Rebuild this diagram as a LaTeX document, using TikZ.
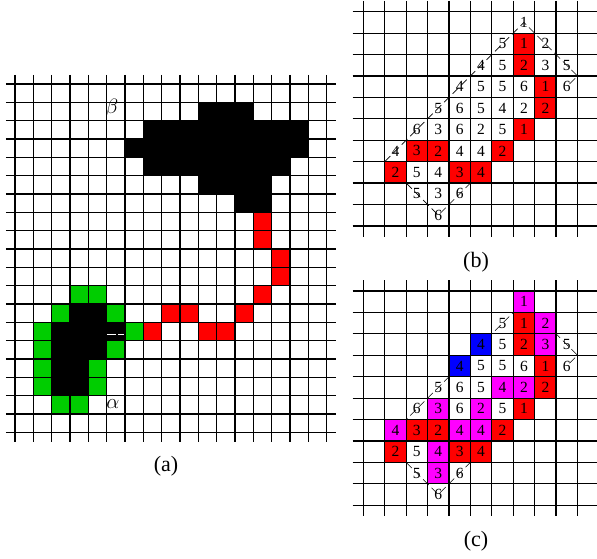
\documentclass[tikz,border=0pt]{standalone}
\usepackage{fontspec}
\setmainfont{Liberation Serif}
\definecolor{cred}{RGB}{255,0,0}
\definecolor{cgreen}{RGB}{0,205,0}
\definecolor{cmag}{RGB}{255,0,255}
\definecolor{cblue}{RGB}{0,0,255}
\tikzset{
  gridline/.style={line width=1.2pt, black},
  bnd/.style={line width=0.6pt, black, dash pattern=on 8pt off 4pt},
  dig/.style={inner sep=0pt, font=\fontsize{15.5}{15.5}\selectfont},
  capt/.style={inner sep=0pt, font=\fontsize{22}{22}\selectfont},
  greek/.style={inner sep=0pt, font=\fontsize{22}{22}\selectfont},
}
\newcommand\cellfill[2]{\foreach \c/\r in {#2} {\fill[#1] (\c,\r) rectangle ++(1,1);}}
\def\digitlist{7/0/1, 6/1/5, 7/1/1, 8/1/2, 5/2/4, 6/2/5, 7/2/2, 8/2/3, 9/2/5, 4/3/4, 5/3/5, 6/3/5, 7/3/6, 8/3/1, 9/3/6, 3/4/5, 4/4/6, 5/4/5, 6/4/4, 7/4/2, 8/4/2, 2/5/6, 3/5/3, 4/5/6, 5/5/2, 6/5/5, 7/5/1, 1/6/4, 2/6/3, 3/6/2, 4/6/4, 5/6/4, 6/6/2, 1/7/2, 2/7/5, 3/7/4, 4/7/3, 5/7/4, 2/8/5, 3/8/3, 4/8/6, 3/9/6}
\begin{document}
\begin{tikzpicture}[x=1pt,y=-1pt]
\useasboundingbox (0,0) rectangle (597,558);
\clip (0,0) rectangle (597,558);
\fill[white] (0,0) rectangle (597,558);

% ---------- panel (a) ----------
\begin{scope}[shift={(15,84)}, x=18.333pt, y=-18.333pt]
  % beta blob
  \fill[black] (10,1) rectangle (13,2);
  \fill[black] (7,2) rectangle (16,3);
  \fill[black] (6,3) rectangle (16,4);
  \fill[black] (7,4) rectangle (15,5);
  \fill[black] (10,5) rectangle (14,6);
  \fill[black] (12,6) rectangle (14,7);
  % alpha blob
  \fill[black] (3,12) rectangle (5,13);
  \fill[black] (2,13) rectangle (6,14);
  \fill[black] (2,14) rectangle (5,15);
  \fill[black] (2,15) rectangle (4,17);
  % green border
  \cellfill{cgreen}{3/11, 4/11, 2/12, 5/12, 1/13, 6/13, 1/14, 5/14, 1/15, 4/15, 1/16, 4/16, 2/17, 3/17}
  % red path
  \cellfill{cred}{13/7, 13/8, 14/9, 14/10, 13/11, 12/12, 8/12, 9/12, 7/13, 10/13, 11/13}
  % grid
  \foreach \i in {0,...,17} {\draw[gridline] (\i,-0.5) -- (\i,19.5);}
  \foreach \j in {0,...,19} {\draw[gridline] (-0.5,\j) -- (17.5,\j);}
  % white dashes
  \draw[white, line width=1pt] (5.02,13.65) -- (5.52,13.65);
  \draw[white, line width=1pt] (5.62,13.65) -- (5.95,13.65);
\end{scope}
\node[greek] (beta) at (112,108) {$\beta$};
\node[greek] (alpha) at (113,404) {$\alpha$};
\node[capt] (capa) at (166,466) {(a)};

% ---------- panel (b) ----------
\begin{scope}[shift={(363.3,11.7)}, x=21.42pt, y=-21.42pt]
  \draw[bnd] (1,7) -- (7,1) -- (7.5,0.5) -- (8,1) -- (10,3) -- (9.5,3.5);
  \draw[bnd] (2,8) -- (3,9) -- (3.5,9.5) -- (4,9) -- (5,8);
  \cellfill{cred}{7/1, 7/2, 8/3, 8/4, 7/5, 2/6, 3/6, 6/6, 1/7, 4/7, 5/7}
  \foreach \i in {0,...,11} {\draw[gridline] (\i,-0.5) -- (\i,10.5);}
  \foreach \j in {0,...,10} {\draw[gridline] (-0.5,\j) -- (11.5,\j);}
  \foreach \c/\r/\d in \digitlist {\node[dig] (b\c-\r) at (\c+0.5,\r+0.5) {\d};}
\end{scope}
\node[capt] (capb) at (476,262) {(b)};

% ---------- panel (c) ----------
\begin{scope}[shift={(363.3,291.0)}, x=21.42pt, y=-21.42pt]
  \draw[bnd] (1,7) -- (7,1) -- (7.5,0.5) -- (8,1) -- (10,3) -- (9.5,3.5);
  \draw[bnd] (2,8) -- (3,9) -- (3.5,9.5) -- (4,9) -- (5,8);
  \cellfill{cred}{7/1, 7/2, 8/3, 8/4, 7/5, 2/6, 3/6, 6/6, 1/7, 4/7, 5/7}
  \cellfill{cmag}{7/0, 8/1, 8/2, 6/4, 7/4, 3/5, 5/5, 1/6, 4/6, 5/6, 3/7, 3/8}
  \cellfill{cblue}{5/2, 4/3}
  \foreach \i in {0,...,11} {\draw[gridline] (\i,-0.5) -- (\i,10.5);}
  \foreach \j in {0,...,10} {\draw[gridline] (-0.5,\j) -- (11.5,\j);}
  \foreach \c/\r/\d in \digitlist {\node[dig] (c\c-\r) at (\c+0.5,\r+0.5) {\d};}
\end{scope}
\node[capt] (capc) at (476,541) {(c)};
\end{tikzpicture}
\end{document}
